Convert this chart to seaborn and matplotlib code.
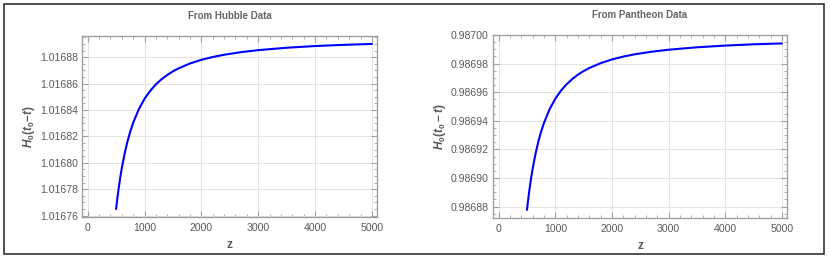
import matplotlib
matplotlib.use("Agg")
import matplotlib.pyplot as plt
import seaborn as sns
import pandas as pd
from matplotlib.ticker import MultipleLocator, FormatStrFormatter
from matplotlib.patches import Rectangle

# values
z_vals = [500, 525, 550, 575, 600, 650, 700, 750, 800, 900, 1000, 1100,
          1200, 1300, 1400, 1500, 1600, 1800, 2000, 2200, 2400, 2700,
          3000, 3500, 4000, 4500, 5000]
hubble_vals = [1.0167650, 1.0167741, 1.0167822, 1.0167894, 1.0167959,
               1.0168070, 1.0168162, 1.0168238, 1.0168303, 1.0168406,
               1.0168485, 1.0168545, 1.0168594, 1.0168633, 1.0168665,
               1.0168693, 1.0168715, 1.0168752, 1.0168780, 1.0168801,
               1.0168818, 1.0168838, 1.0168853, 1.0168871, 1.0168884,
               1.0168893, 1.0168900]
pantheon_vals = [0.9868777, 0.9868862, 0.9868938, 0.9869005, 0.9869065,
                 0.9869168, 0.9869254, 0.9869325, 0.9869385, 0.9869482,
                 0.9869554, 0.9869611, 0.9869656, 0.9869692, 0.9869723,
                 0.9869748, 0.9869769, 0.9869803, 0.9869829, 0.9869849,
                 0.9869865, 0.9869883, 0.9869897, 0.9869914, 0.9869926,
                 0.9869935, 0.9869941]
titles = ["From Hubble Data", "From Pantheon Data"]
ylabels = [r"$H_0(t_0\!-\!t)$", r"$H_0(t_0 - t)$"]

sns.set_style("white")
plt.rcParams['font.family'] = ['Liberation Sans', 'DejaVu Sans']
plt.rcParams['mathtext.fontset'] = 'custom'
plt.rcParams['mathtext.it'] = 'Liberation Sans:italic:bold'
plt.rcParams['mathtext.rm'] = 'Liberation Sans:bold'

fig = plt.figure(figsize=(8.3, 2.58), dpi=100)
W, H = 830, 258
# axes boxes in pixel coords (left, top, right, bottom)
boxes = [(82, 36, 377, 217), (493, 35, 787, 218)]
ylims = [(1.016759, 1.016896), (0.986872, 0.987000)]

frame_col = "#a0a0a0"
text_col = "#5a5a5a"

for i, (vals, box) in enumerate(zip([hubble_vals, pantheon_vals], boxes)):
    l, t, r, b = box
    ax = fig.add_axes([l / W, 1 - b / H, (r - l) / W, (b - t) / H])
    df = pd.DataFrame({"z": z_vals, "H": vals})
    sns.lineplot(data=df, x="z", y="H", ax=ax, color="#0000ff", linewidth=1.5)
    ax.set_xlim(-100, 5090)
    ax.set_ylim(*ylims[i])
    ax.xaxis.set_major_locator(MultipleLocator(1000))
    ax.xaxis.set_minor_locator(MultipleLocator(200))
    ax.yaxis.set_major_locator(MultipleLocator(0.00002))
    ax.yaxis.set_minor_locator(MultipleLocator(0.000005))
    ax.yaxis.set_major_formatter(FormatStrFormatter("%.5f"))
    ax.tick_params(which="both", direction="in", bottom=True, left=True,
                   top=True, right=True, color=frame_col,
                   labelcolor=text_col, labelsize=7.6)
    ax.tick_params(axis="x", pad=4.5)
    ax.tick_params(axis="y", pad=3)
    ax.tick_params(which="major", length=4, width=0.8)
    ax.tick_params(which="minor", length=2, width=0.6)
    ax.grid(True, which="major", color="#e4e4e4", linewidth=0.7)
    for s in ax.spines.values():
        s.set_color(frame_col)
        s.set_linewidth(1.0)
    ax.set_xlabel("z", color=text_col, fontsize=8.5, fontweight="bold", labelpad=4)
    ax.set_ylabel(ylabels[i], color=text_col, fontsize=8.5, labelpad=2)
    ax.set_title(titles[i], color="#666666", fontsize=7, fontweight="bold", pad=12)

# outer frame around the whole image
fig.patches.append(Rectangle((4 / W, 1 - 254 / H), 820 / W, 250 / H,
                             transform=fig.transFigure, fill=False,
                             edgecolor="#333333", linewidth=1.2))

fig.savefig("out.png", dpi=100)
